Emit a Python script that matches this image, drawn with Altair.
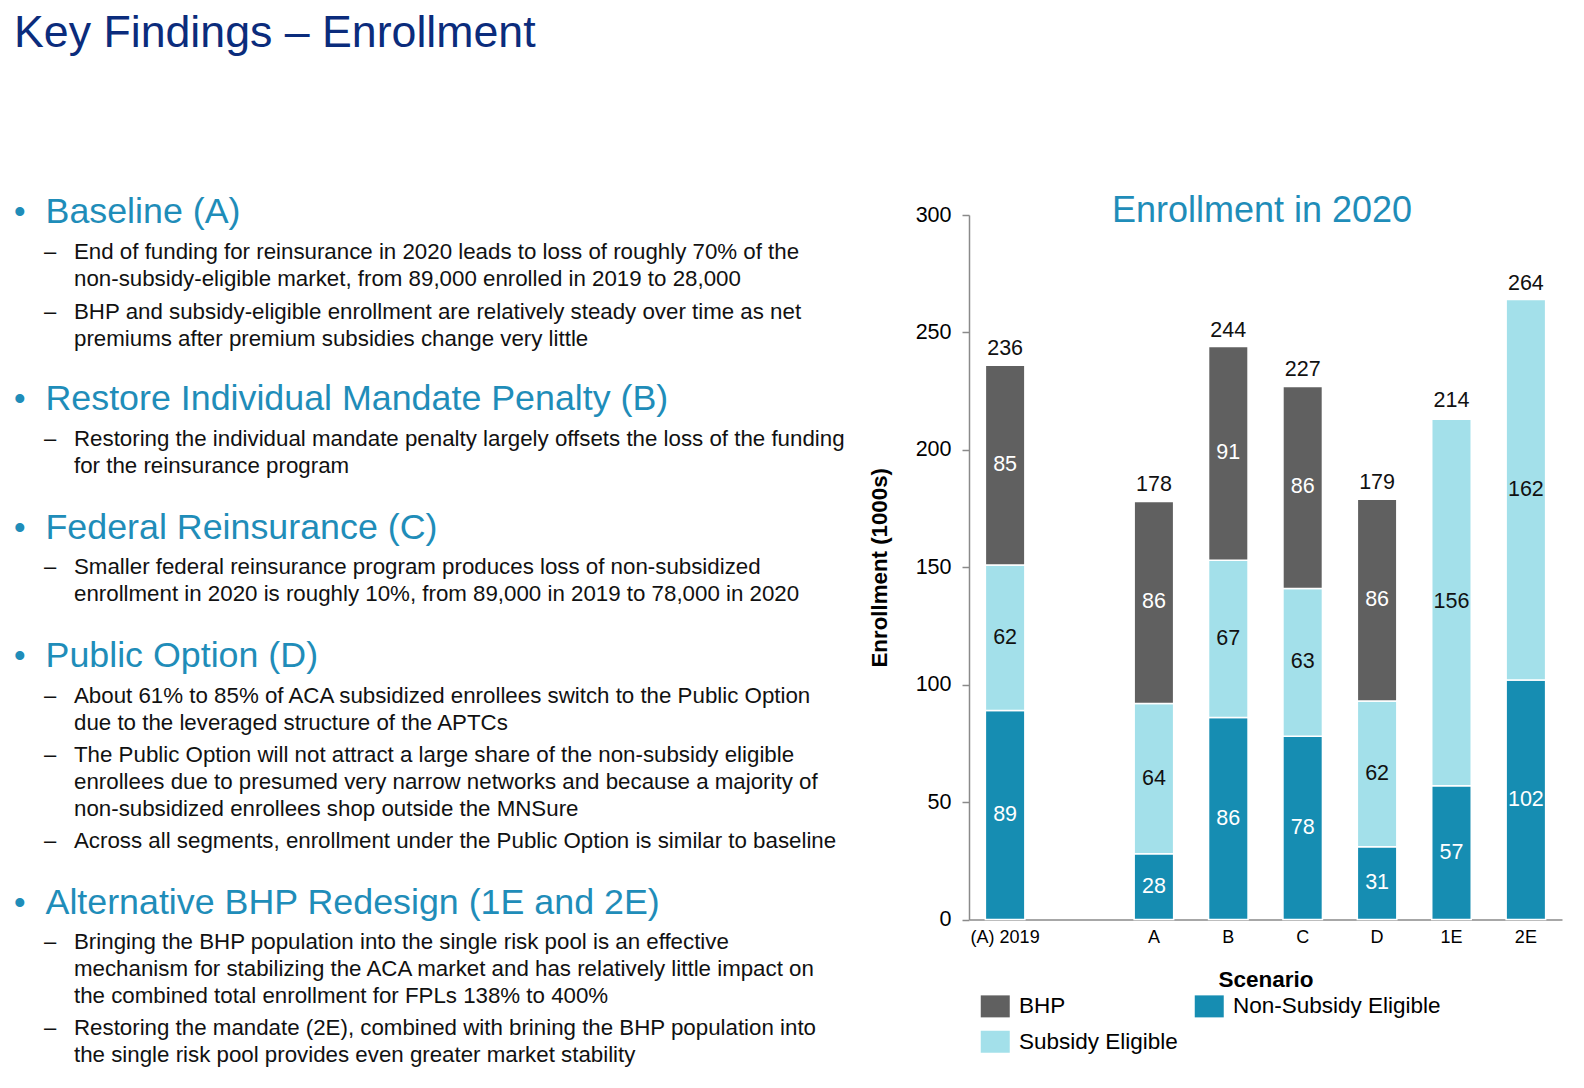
import altair as alt
import pandas as pd

FONT = "Liberation Sans"

# ---------------- chart data ----------------
scenarios = ["(A) 2019", "A", "B", "C", "D", "1E", "2E"]
x_domain = ["(A) 2019", " ", "A", "B", "C", "D", "1E", "2E"]
non_subsidy = [89, 28, 86, 78, 31, 57, 102]
subsidy = [62, 64, 67, 63, 62, 156, 162]
bhp = [85, 86, 91, 86, 86, 0, 0]
totals = [236, 178, 244, 227, 179, 214, 264]
# legend is filled column by column: BHP / Subsidy in column 1, Non-Subsidy in column 2
segments = ["BHP", "Subsidy Eligible", "Non-Subsidy Eligible"]
segment_colors = ["#606060", "#a3e0ea", "#168db2"]
y_ticks = [0, 50, 100, 150, 200, 250, 300]

# ---------------- slide text ----------------
slide_title = "Key Findings – Enrollment"
chart_title = "Enrollment in 2020"
headings = [
    "Baseline (A)",
    "Restore Individual Mandate Penalty (B)",
    "Federal Reinsurance (C)",
    "Public Option (D)",
    "Alternative BHP Redesign (1E and 2E)",
]
bullets = [
    [
        ["End of funding for reinsurance in 2020 leads to loss of roughly 70% of the",
         "non-subsidy-eligible market, from 89,000 enrolled in 2019 to 28,000"],
        ["BHP and subsidy-eligible enrollment are relatively steady over time as net",
         "premiums after premium subsidies change very little"],
    ],
    [
        ["Restoring the individual mandate penalty largely offsets the loss of the funding",
         "for the reinsurance program"],
    ],
    [
        ["Smaller federal reinsurance program produces loss of non-subsidized",
         "enrollment in 2020 is roughly 10%, from 89,000 in 2019 to 78,000 in 2020"],
    ],
    [
        ["About 61% to 85% of ACA subsidized enrollees switch to the Public Option",
         "due to the leveraged structure of the APTCs"],
        ["The Public Option will not attract a large share of the non-subsidy eligible",
         "enrollees due to presumed very narrow networks and because a majority of",
         "non-subsidized enrollees shop outside the MNSure"],
        ["Across all segments, enrollment under the Public Option is similar to baseline"],
    ],
    [
        ["Bringing the BHP population into the single risk pool is an effective",
         "mechanism for stabilizing the ACA market and has relatively little impact on",
         "the combined total enrollment for FPLs 138% to 400%"],
        ["Restoring the mandate (2E), combined with brining the BHP population into",
         "the single risk pool provides even greater market stability"],
    ],
]

# ---------------- layout (pixels, page coordinates) ----------------
OX, OY = 969, 215          # plot-area origin on the page
PW, PH = 593, 704.5        # plot-area size
heading_baselines = [223, 410, 538.5, 667, 913.5]
bullet_baselines = [[259, 319], [446], [574], [703, 762, 848], [949, 1035]]
LINE_H = 26.8
NAVY = "#0b2c7c"
TEAL = "#1f8db9"
INK = "#111111"

# ---------------- data tables ----------------
rows = []
for i, s in enumerate(scenarios):
    rows.append({"scenario": s, "segment": "Non-Subsidy Eligible", "value": non_subsidy[i], "order": 1})
    rows.append({"scenario": s, "segment": "Subsidy Eligible", "value": subsidy[i], "order": 2})
    rows.append({"scenario": s, "segment": "BHP", "value": bhp[i], "order": 3})
df = pd.DataFrame(rows)
tot_df = pd.DataFrame({"scenario": scenarios, "total": totals})

x_axis = alt.Axis(title="Scenario", labelAngle=0, ticks=False, tickSize=0,
                  domainColor="#8a8a8a", domainWidth=1.5, labelFontSize=18,
                  labelColor="#000000", labelPadding=9, titleFontSize=22.5,
                  titleFontWeight="bold", titleColor="#000000", titlePadding=22)
y_axis = alt.Axis(title="Enrollment (1000s)", values=y_ticks, grid=False,
                  domainColor="#8a8a8a", domainWidth=1.5, tickColor="#8a8a8a",
                  tickSize=7, tickWidth=1.5, labelFontSize=21.5, labelColor="#000000",
                  labelPadding=11, titleFontSize=22.3, titleFontWeight="bold",
                  titleColor="#000000", titlePadding=24)
x_scale = alt.Scale(domain=x_domain, paddingInner=0.469, paddingOuter=0.22)
y_scale = alt.Scale(domain=[0, 300], nice=False)


def X():
    return alt.X("scenario:N", scale=x_scale, sort=x_domain, axis=x_axis)


def Y(field):
    return alt.Y(field, scale=y_scale, axis=y_axis)


legend = alt.Legend(title=None, orient="none", legendX=15, legendY=780, columns=2,
                    symbolType="M-1.318,-1H1.318V1H-1.318Z", symbolSize=484,
                    symbolStrokeWidth=0, symbolOpacity=1, labelFontSize=22.5,
                    labelColor="#000000", labelFont=FONT, labelOffset=12.5,
                    labelLimit=400, rowPadding=12.5, columnPadding=16, padding=0)

bars = alt.Chart(df).transform_filter(alt.datum.value > 0).mark_bar(
    stroke="white", strokeWidth=1.5
).encode(
    x=X(),
    y=alt.Y("value:Q", stack="zero", scale=y_scale, axis=y_axis),
    color=alt.Color("segment:N", scale=alt.Scale(domain=segments, range=segment_colors), legend=legend),
    order=alt.Order("order:Q", sort="ascending"),
)

seg_labels = alt.Chart(df).transform_filter(alt.datum.value > 0).transform_stack(
    stack="value", groupby=["scenario"], as_=["v0", "v1"],
    sort=[alt.SortField("order", order="ascending")],
).transform_calculate(mid="(datum.v0 + datum.v1) / 2").mark_text(
    fontSize=21.5, baseline="middle", font=FONT
).encode(
    x=X(),
    y=Y("mid:Q"),
    text="value:Q",
    color=alt.condition(alt.datum.segment == "Subsidy Eligible", alt.value(INK), alt.value("white")),
)

tot_labels = alt.Chart(tot_df).mark_text(
    fontSize=21.5, baseline="alphabetic", dy=-10, color=INK, font=FONT
).encode(x=X(), y=Y("total:Q"), text="total:Q")

one = pd.DataFrame({"k": [0]})


def text_layer(text, x, y, size, color, weight="normal", align="left", line_height=None):
    kw = dict(text=text, fontSize=size, color=color, fontWeight=weight, align=align,
              baseline="alphabetic", font=FONT)
    if line_height:
        kw["lineHeight"] = line_height
    return alt.Chart(one).mark_text(**kw).encode(x=alt.value(x - OX), y=alt.value(y - OY))


texts = [
    text_layer(slide_title, 14, 46.5, 44.7, NAVY),
    text_layer(chart_title, 1262, 222, 36, TEAL, align="center"),
]
for h, hy, items, bys in zip(headings, heading_baselines, bullets, bullet_baselines):
    texts.append(text_layer("•", 14, hy, 33, TEAL))
    texts.append(text_layer(h, 45.5, hy, 35.8, TEAL))
    for lines, by in zip(items, bys):
        texts.append(text_layer("–", 44, by, 22, INK))
        texts.append(text_layer(lines, 74, by, 22.3, INK, line_height=LINE_H))

chart = alt.layer(bars, seg_labels, tot_labels, *texts).properties(
    width=PW, height=PH,
    padding={"left": OX - 8, "top": OY - 8, "right": 10, "bottom": 150},
    autosize=alt.AutoSizeParams(type="none"),
).configure(font=FONT).configure_view(stroke=None)

chart.save("out.html", embed_options={"renderer": "svg", "actions": False})
